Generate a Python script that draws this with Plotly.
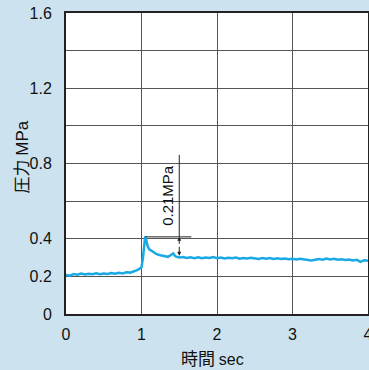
import plotly.graph_objects as go

time_sec = [0.00, 0.05, 0.10, 0.15, 0.20, 0.25, 0.30, 0.35, 0.40, 0.45,
            0.50, 0.55, 0.60, 0.65, 0.70, 0.75, 0.80, 0.85, 0.90, 0.95,
            1.00, 1.02, 1.04, 1.05, 1.06, 1.08, 1.10, 1.15, 1.20, 1.25,
            1.30, 1.35, 1.40, 1.42, 1.45, 1.50, 1.55, 1.60, 1.65, 1.70,
            1.75, 1.80, 1.85, 1.90, 1.95, 2.00, 2.05, 2.10, 2.15, 2.20,
            2.25, 2.30, 2.35, 2.40, 2.45, 2.50, 2.55, 2.60, 2.65, 2.70,
            2.75, 2.80, 2.85, 2.90, 2.95, 3.00, 3.05, 3.10, 3.15, 3.20,
            3.25, 3.30, 3.35, 3.40, 3.45, 3.50, 3.55, 3.60, 3.65, 3.70,
            3.75, 3.80, 3.85, 3.90, 3.95, 4.00]
pressure_mpa = [0.207, 0.204, 0.212, 0.209, 0.215, 0.210, 0.214, 0.211, 0.216, 0.212,
                0.215, 0.213, 0.218, 0.214, 0.219, 0.216, 0.222, 0.220, 0.227, 0.235,
                0.248, 0.300, 0.380, 0.412, 0.400, 0.362, 0.345, 0.330, 0.318, 0.312,
                0.308, 0.304, 0.316, 0.322, 0.306, 0.300, 0.303, 0.298, 0.302, 0.297,
                0.301, 0.296, 0.300, 0.298, 0.303, 0.297, 0.300, 0.295, 0.299, 0.296,
                0.300, 0.294, 0.298, 0.295, 0.299, 0.296, 0.293, 0.297, 0.294, 0.298,
                0.293, 0.296, 0.292, 0.295, 0.291, 0.293, 0.290, 0.294, 0.291, 0.289,
                0.284, 0.288, 0.292, 0.289, 0.295, 0.290, 0.293, 0.288, 0.291, 0.287,
                0.290, 0.285, 0.288, 0.277, 0.286, 0.283]

x_tick_vals = [0, 1, 2, 3, 4]
x_tick_text = ["0", "1", "2", "3", "4"]
y_tick_vals = [0, 0.2, 0.4, 0.6, 0.8, 1.0, 1.2, 1.4, 1.6]
y_tick_text = ["0", "0.2", "0.4", "", "0.8", "", "1.2", "", "1.6"]

peak_value = 0.41
settled_value = 0.31
marker_time = 1.5
label_text = "0.21MPa"

font = "Liberation Sans, Arial, sans-serif"
cjk = "Noto Sans CJK JP, Liberation Sans, sans-serif"

fig = go.Figure()
fig.add_trace(go.Scatter(x=time_sec, y=pressure_mpa, mode="lines",
                         line=dict(color="#1aa9e4", width=2.5), showlegend=False,
                         hoverinfo="skip"))

# dimension marker
fig.add_shape(type="line", x0=1.05, x1=1.66, y0=peak_value, y1=peak_value,
              line=dict(color="#222", width=1))
fig.add_shape(type="line", x0=marker_time, x1=marker_time, y0=0.846, y1=peak_value,
              line=dict(color="#222", width=1))
fig.add_annotation(x=marker_time, y=peak_value, ax=marker_time, ay=0.365,
                   xref="x", yref="y", axref="x", ayref="y", text="",
                   showarrow=True, arrowhead=2, arrowsize=0.8, arrowwidth=1, arrowcolor="#222")
fig.add_annotation(x=marker_time, y=settled_value, ax=marker_time, ay=0.365,
                   xref="x", yref="y", axref="x", ayref="y", text="",
                   showarrow=True, arrowhead=2, arrowsize=0.8, arrowwidth=1, arrowcolor="#222")
fig.add_annotation(x=1.35, y=0.633, xref="x", yref="y", text=label_text, textangle=-90,
                   showarrow=False, xanchor="center", yanchor="middle",
                   font=dict(family=font, size=15, color="#111"))

# axis titles
fig.add_annotation(x=-0.152, y=0.52, xref="paper", yref="paper",
                   text="圧力 <span style='font-family:Liberation Sans'>MPa</span>",
                   textangle=-90, showarrow=False, xanchor="center", yanchor="middle",
                   font=dict(family=cjk, size=17, color="#111"))
fig.add_annotation(x=0.485, y=-0.146, xref="paper", yref="paper",
                   text="時間 <span style='font-family:Liberation Sans;font-size:16px'>sec</span>",
                   showarrow=False, xanchor="center", yanchor="middle",
                   font=dict(family=cjk, size=17, color="#111"))

axis_common = dict(showgrid=True, gridcolor="#555", gridwidth=1,
                   showline=True, linecolor="#222", linewidth=2, mirror=True,
                   zeroline=False, ticks="outside", tickcolor="rgba(0,0,0,0)",
                   ticklabeloverflow="allow",
                   tickfont=dict(family=font, size=16, color="#111"), automargin=False)
fig.update_xaxes(range=[0, 4], tickvals=x_tick_vals, ticktext=x_tick_text, ticklen=5,
                 **axis_common)
fig.update_yaxes(range=[0, 1.6], tickvals=y_tick_vals, ticktext=y_tick_text, ticklen=9,
                 **axis_common)

fig.update_layout(width=369, height=370,
                  margin=dict(l=66, r=1, t=13, b=56, pad=0),
                  paper_bgcolor="#cce2ef", plot_bgcolor="white")
fig.write_html("out.html", config={"displayModeBar": False},
               post_script="document.body.style.margin='0';document.body.style.overflow='hidden';document.body.style.background='#cce2ef';")
